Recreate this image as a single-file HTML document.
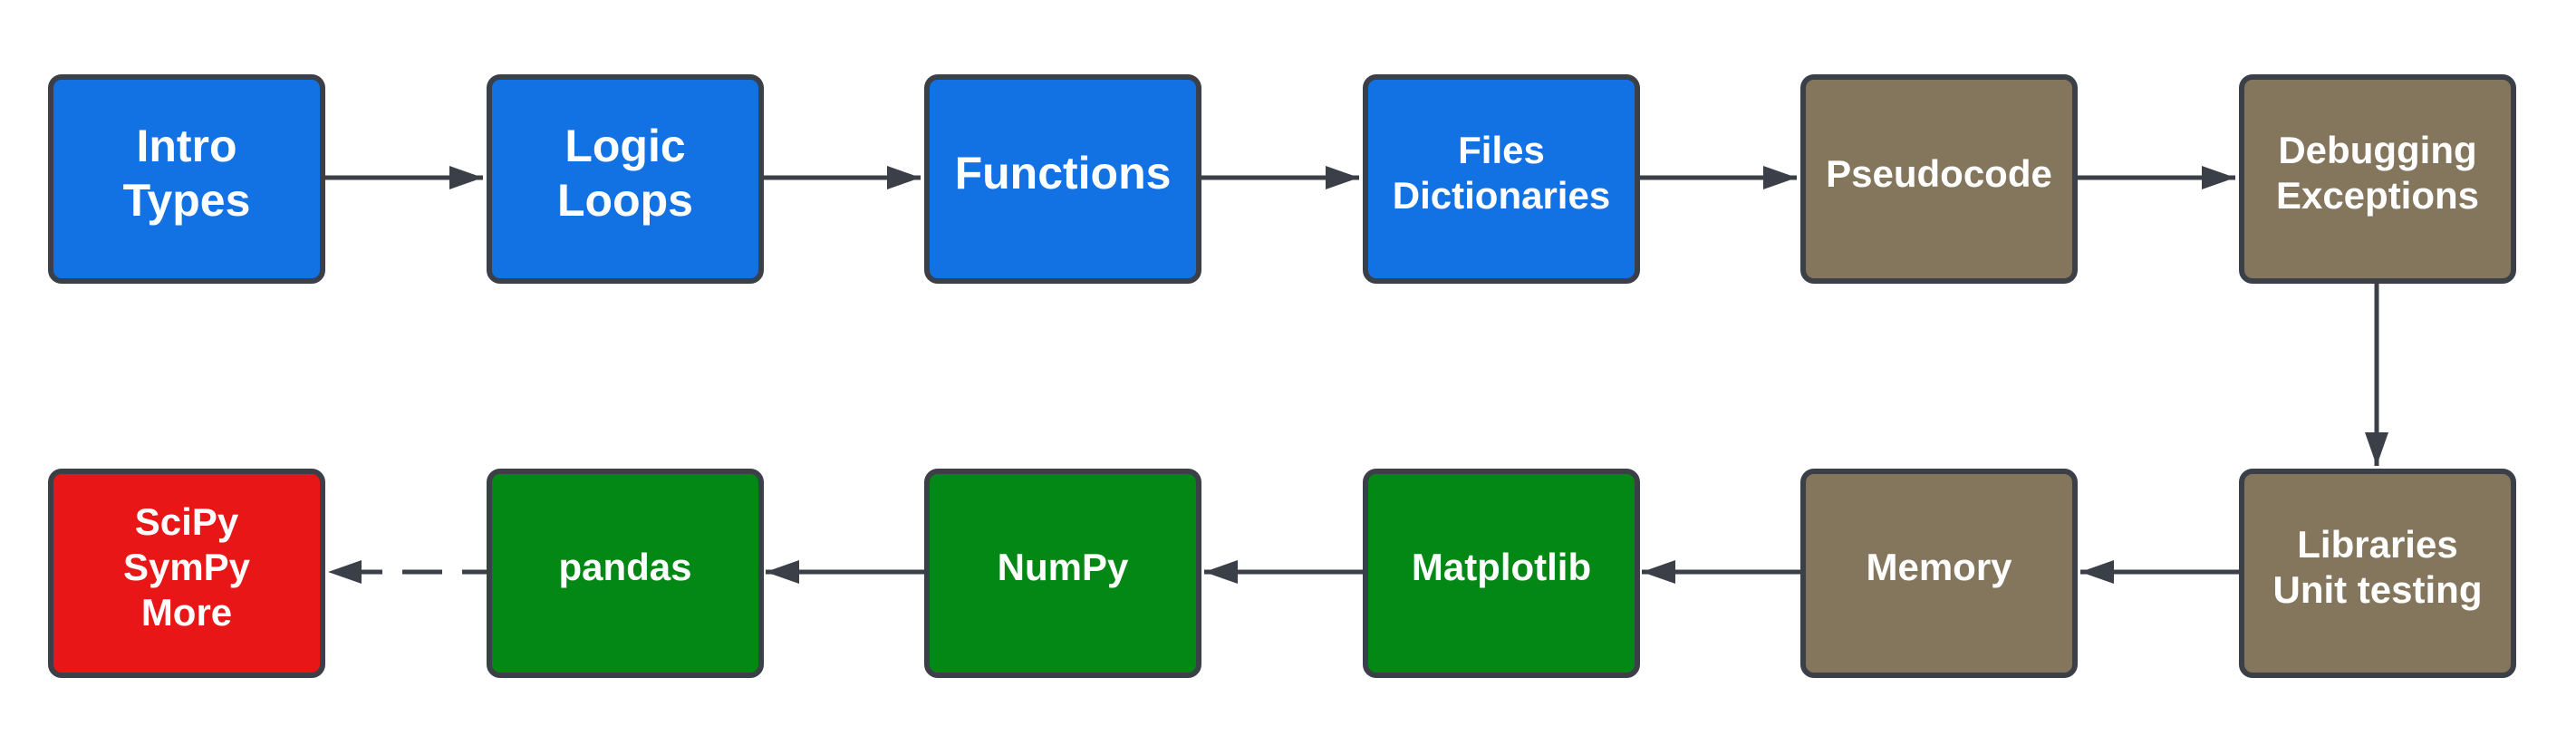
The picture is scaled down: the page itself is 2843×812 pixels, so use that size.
<!DOCTYPE html>
<html><head><meta charset="utf-8"><style>
html,body{margin:0;padding:0;background:#fff;}
svg{display:block;}
text{font-family:"Liberation Sans",Arial,sans-serif;font-weight:bold;fill:#fff;text-anchor:middle;}
</style></head><body>
<svg width="2843" height="812" viewBox="0 0 2843 812" xmlns="http://www.w3.org/2000/svg">
<defs>
<marker id="ah" markerWidth="10" markerHeight="10" refX="0" refY="0" orient="auto" markerUnits="userSpaceOnUse" overflow="visible">
<path d="M-37,-13 L0,0 L-37,13 Z" fill="#3a3f48"/>
</marker>
</defs>
<g stroke="#3a3f48" stroke-width="5" fill="none">
<line x1="357" y1="196" x2="533" y2="196" marker-end="url(#ah)"/>
<line x1="840" y1="196" x2="1016" y2="196" marker-end="url(#ah)"/>
<line x1="1324" y1="196" x2="1500" y2="196" marker-end="url(#ah)"/>
<line x1="1807" y1="196" x2="1983" y2="196" marker-end="url(#ah)"/>
<line x1="2291" y1="196" x2="2467" y2="196" marker-end="url(#ah)"/>
<line x1="2623" y1="312" x2="2623" y2="514" marker-end="url(#ah)"/>
<line x1="2472" y1="631" x2="2296" y2="631" marker-end="url(#ah)"/>
<line x1="1988" y1="631" x2="1812" y2="631" marker-end="url(#ah)"/>
<line x1="1505" y1="631" x2="1329" y2="631" marker-end="url(#ah)"/>
<line x1="1021" y1="631" x2="845" y2="631" marker-end="url(#ah)"/>
<line x1="537" y1="631" x2="362" y2="631" stroke-dasharray="27,22,44,22,44" marker-end="url(#ah)"/>
</g>
<g stroke="#3a3f48" stroke-width="6">
<rect x="56" y="85" width="300" height="225" rx="12" fill="#1272e3"/>
<rect x="540" y="85" width="300" height="225" rx="12" fill="#1272e3"/>
<rect x="1023" y="85" width="300" height="225" rx="12" fill="#1272e3"/>
<rect x="1507" y="85" width="300" height="225" rx="12" fill="#1272e3"/>
<rect x="1990" y="85" width="300" height="225" rx="12" fill="#84765c"/>
<rect x="2474" y="85" width="300" height="225" rx="12" fill="#84765c"/>
<rect x="56" y="520" width="300" height="225" rx="12" fill="#e81616"/>
<rect x="540" y="520" width="300" height="225" rx="12" fill="#038815"/>
<rect x="1023" y="520" width="300" height="225" rx="12" fill="#038815"/>
<rect x="1507" y="520" width="300" height="225" rx="12" fill="#038815"/>
<rect x="1990" y="520" width="300" height="225" rx="12" fill="#84765c"/>
<rect x="2474" y="520" width="300" height="225" rx="12" fill="#84765c"/>
</g>
<g font-size="50">
<text x="206" y="178">Intro</text>
<text x="206" y="238">Types</text>
<text x="690" y="178">Logic</text>
<text x="690" y="238">Loops</text>
<text x="1173" y="208">Functions</text>
</g>
<g font-size="42">
<text x="1657" y="180">Files</text>
<text x="1657" y="230">Dictionaries</text>
<text x="2140" y="206">Pseudocode</text>
<text x="2624" y="180">Debugging</text>
<text x="2624" y="230">Exceptions</text>
<text x="206" y="590">SciPy</text>
<text x="206" y="640">SymPy</text>
<text x="206" y="690">More</text>
<text x="690" y="640">pandas</text>
<text x="1173" y="640">NumPy</text>
<text x="1657" y="640">Matplotlib</text>
<text x="2140" y="640">Memory</text>
<text x="2624" y="615">Libraries</text>
<text x="2624" y="665">Unit testing</text>
</g>
</svg>
</body></html>
